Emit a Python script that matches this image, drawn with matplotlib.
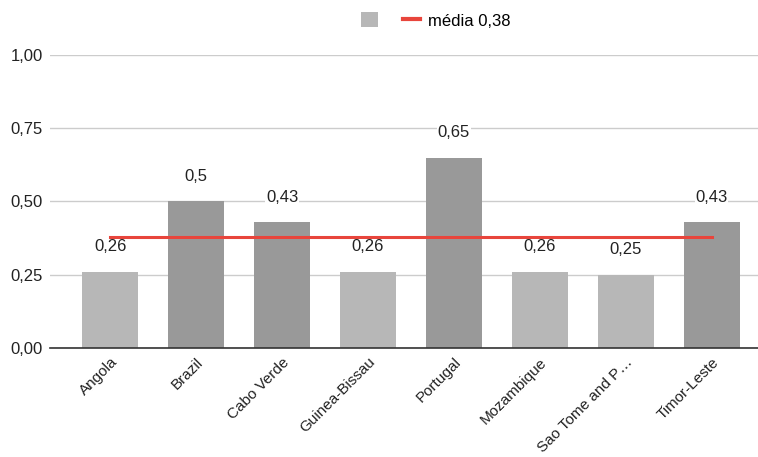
import numpy as np
import matplotlib.pyplot as plt
from matplotlib.patches import Patch
from matplotlib.lines import Line2D

plt.rcParams['font.family'] = ['Liberation Sans', 'DejaVu Sans']

# data
countries = ['Angola', 'Brazil', 'Cabo Verde', 'Guinea-Bissau', 'Portugal',
             'Mozambique', 'Sao Tome and P…', 'Timor-Leste']
values = [0.26, 0.50, 0.43, 0.26, 0.65, 0.26, 0.25, 0.43]
value_labels = ['0,26', '0,5', '0,43', '0,26', '0,65', '0,26', '0,25', '0,43']
mean_val = 0.38
yticks = [0.0, 0.25, 0.5, 0.75, 1.0]
ytick_labels = ['0,00', '0,25', '0,50', '0,75', '1,00']

light = '#b7b7b7'
dark = '#999999'
red = '#e8453c'

fig = plt.figure(figsize=(7.58, 4.57), dpi=100)
ax = fig.add_axes([0.066, 0.2385, 0.934, 0.6412])

x = np.arange(len(countries))
colors = [dark if v > mean_val else light for v in values]
bars = ax.bar(x, values, width=0.65, color=colors, zorder=2)

# mean line from first to last bar centre
ax.plot([x[0], x[-1]], [mean_val, mean_val], color=red, lw=2.2, zorder=3)

for xi, v, lab in zip(x, values, value_labels):
    ax.annotate(lab, (xi, v), xytext=(0, 18), textcoords='offset points',
                ha='center', va='center', fontsize=12, color='#222222', zorder=4,
                bbox=dict(facecolor='white', edgecolor='none', pad=0.5))

ax.set_xlim(-0.70, 7.54)
ax.set_ylim(0, 1.0)
ax.set_yticks(yticks)
ax.set_yticklabels(ytick_labels, fontsize=12, color='#222222')
ax.set_xticks(x)
ax.set_xticklabels(countries, rotation=45, ha='right', rotation_mode='anchor',
                   fontsize=11, color='#222222')
ax.tick_params(axis='y', length=0, pad=5)
ax.tick_params(axis='x', length=0, pad=5)
ax.grid(axis='y', color='#cccccc', lw=1, zorder=0)
ax.set_axisbelow(True)
for s in ['top', 'right', 'left']:
    ax.spines[s].set_visible(False)
ax.spines['bottom'].set_color('#333333')
ax.spines['bottom'].set_linewidth(1.2)
ax.spines['bottom'].set_zorder(5)

handles = [Patch(facecolor=light, edgecolor='none'),
           Line2D([0], [0], color=red, lw=3)]
fig.legend(handles, ['', 'média 0,38'], loc='center', bbox_to_anchor=(0.575, 0.955),
           ncol=2, frameon=False, fontsize=12, handlelength=1.0, handleheight=1.0,
           handletextpad=0.5, columnspacing=1.0)

plt.savefig('out.png', dpi=100)
